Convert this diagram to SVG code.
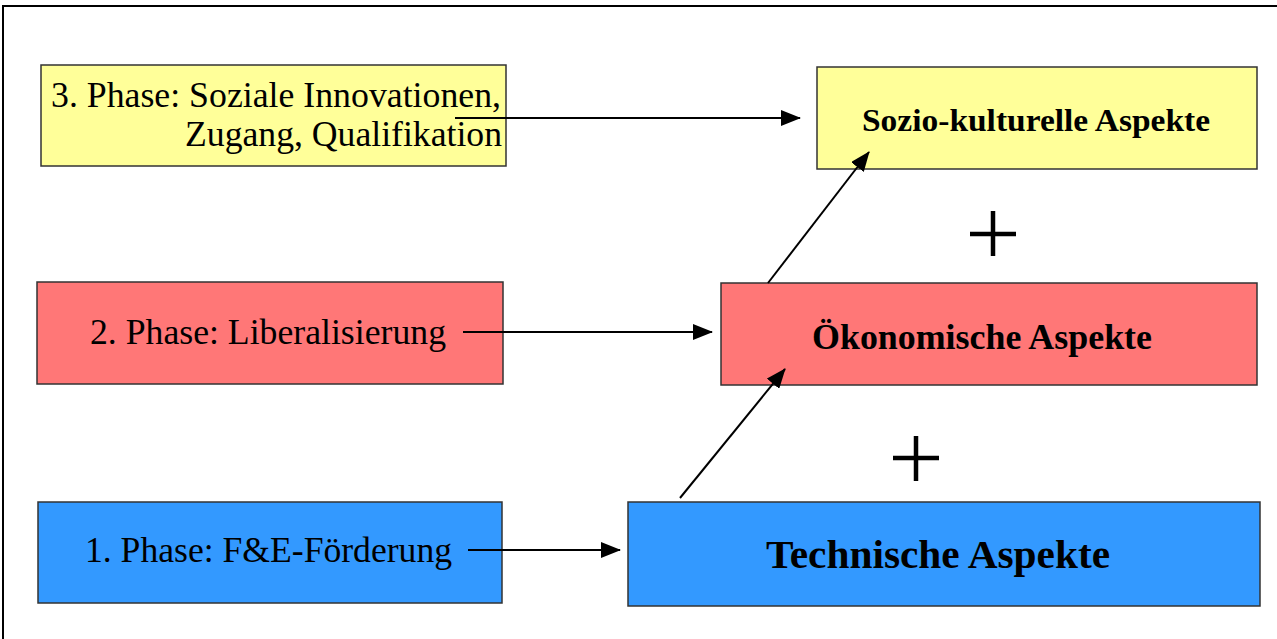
<svg xmlns="http://www.w3.org/2000/svg" width="1277" height="639" viewBox="0 0 1277 639">
<style>
.box{stroke:#333;stroke-width:1.5}
.y{fill:#FFFF99}.r{fill:#FF7777}.b{fill:#3399FF}
.t{font-family:"Liberation Serif",serif;fill:#000}
.c{stroke:#000;stroke-width:2;fill:none;marker-end:url(#ahL)}
.plus{stroke:#000;stroke-width:4.5}
</style>
<defs>
<marker id="ahL" markerWidth="20" markerHeight="16" refX="19" refY="8" orient="auto" markerUnits="userSpaceOnUse" viewBox="0 0 20 16">
<path d="M0,0 L20,8 L0,16 Z" fill="#000"/>
</marker>
</defs>
<rect width="1277" height="639" fill="#fff"/>
<path d="M3,639 L3,6 L1277,6" stroke="#000" stroke-width="2" fill="none"/>
<g id="phase3">
<rect class="box y" x="41" y="65" width="465" height="101"/>
<text class="t" font-size="36" text-anchor="end" x="501" y="107" textLength="450" lengthAdjust="spacingAndGlyphs">3. Phase: Soziale Innovationen,</text>
<text class="t" font-size="36" text-anchor="end" x="502" y="146" textLength="317" lengthAdjust="spacingAndGlyphs">Zugang, Qualifikation</text>
</g>
<g id="sozio">
<rect class="box y" x="817" y="67" width="440" height="102"/>
<text class="t" font-size="32" font-weight="bold" text-anchor="middle" x="1036" y="131" textLength="348" lengthAdjust="spacingAndGlyphs">Sozio-kulturelle Aspekte</text>
</g>
<g id="phase2">
<rect class="box r" x="37" y="282" width="466" height="102"/>
<text class="t" font-size="36" x="90" y="344" textLength="356" lengthAdjust="spacingAndGlyphs">2. Phase: Liberalisierung</text>
</g>
<g id="oekonomisch">
<rect class="box r" x="721" y="283" width="536" height="102"/>
<text class="t" font-size="36" font-weight="bold" text-anchor="middle" x="982" y="349" textLength="340" lengthAdjust="spacingAndGlyphs">Ökonomische Aspekte</text>
</g>
<g id="phase1">
<rect class="box b" x="38" y="502" width="464" height="101"/>
<text class="t" font-size="36" x="85" y="562" textLength="367" lengthAdjust="spacingAndGlyphs">1. Phase: F&amp;E-Förderung</text>
</g>
<g id="technisch">
<rect class="box b" x="628" y="502" width="632" height="104"/>
<text class="t" font-size="41" font-weight="bold" text-anchor="middle" x="938" y="568" textLength="344" lengthAdjust="spacingAndGlyphs">Technische Aspekte</text>
</g>
<g id="connectors">
<line class="c" x1="455" y1="118" x2="800" y2="118"/>
<line class="c" x1="463" y1="332" x2="712" y2="332"/>
<line class="c" x1="468" y1="550" x2="620" y2="550"/>
<line class="c" x1="768" y1="283" x2="869" y2="152"/>
<line class="c" x1="680" y1="498" x2="785" y2="369"/>
</g>
<g id="plus1">
<line class="plus" x1="970" y1="234" x2="1016" y2="234"/>
<line class="plus" x1="993" y1="211" x2="993" y2="256"/>
</g>
<g id="plus2">
<line class="plus" x1="893" y1="458" x2="939" y2="458"/>
<line class="plus" x1="916" y1="436" x2="916" y2="481"/>
</g>
</svg>
